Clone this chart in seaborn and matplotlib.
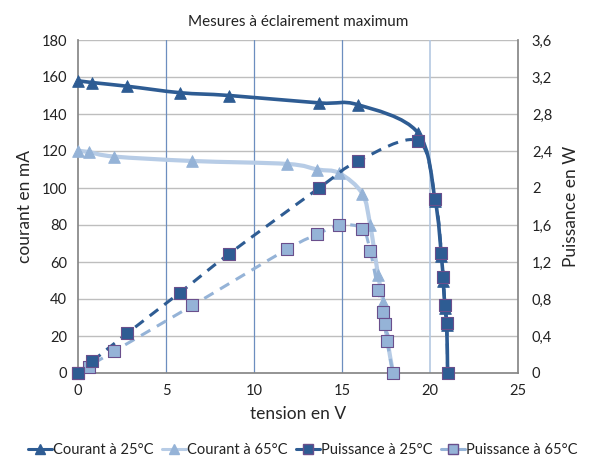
import numpy as np
import pandas as pd
import matplotlib
matplotlib.use("Agg")
import matplotlib.pyplot as plt
import seaborn as sns
from matplotlib.path import Path
from matplotlib.patches import PathPatch
from matplotlib.lines import Line2D

# data
v_25 = [0, 0.8, 2.8, 5.8, 8.6, 13.7, 15.9, 19.3, 20.3, 20.65, 20.75, 20.85, 20.95, 21.0]
i_25 = [158, 157, 155, 151.5, 150, 146, 145, 130, 93, 63, 50, 35, 26, 0]
p_25 = [0, 0.125, 0.43, 0.87, 1.29, 2.0, 2.29, 2.51, 1.88, 1.3, 1.04, 0.73, 0.54, 0]

v_65 = [0, 0.6, 2.05, 6.5, 11.9, 13.6, 14.85, 16.15, 16.6, 17.05, 17.35, 17.45, 17.55, 17.9]
i_65 = [120, 119.5, 117, 114.6, 113, 110, 108, 97, 80, 53, 38.5, 30, 19.5, 0]
p_65 = [0, 0.07, 0.235, 0.73, 1.34, 1.5, 1.6, 1.56, 1.32, 0.9, 0.66, 0.53, 0.35, 0]

x_ticks = [0, 5, 10, 15, 20, 25]
y_ticks = list(range(0, 181, 20))
y2_ticks = [0, 0.4, 0.8, 1.2, 1.6, 2, 2.4, 2.8, 3.2, 3.6]
y2_labels = ["0", "0,4", "0,8", "1,2", "1,6", "2", "2,4", "2,8", "3,2", "3,6"]

dark = "#2E5C93"
light = "#95B3D7"
light_line = "#B7CCE6"
edge = "#6A4F8C"

sns.set_theme(style="white")
plt.rcParams["font.family"] = ["Lato", "DejaVu Sans"]
plt.rcParams["text.color"] = "#222222"


def smooth_path(x, y):
    # excel-like smoothed line as cubic bezier segments
    pts = np.column_stack([x, y]).astype(float)
    n = len(pts)
    verts = [pts[0]]
    codes = [Path.MOVETO]
    for k in range(n - 1):
        p0 = pts[max(k - 1, 0)]
        p1 = pts[k]
        p2 = pts[k + 1]
        p3 = pts[min(k + 2, n - 1)]
        c1 = p1 + (p2 - p0) / 6
        c2 = p2 - (p3 - p1) / 6
        verts += [c1, c2, p2]
        codes += [Path.CURVE4] * 3
    return Path(verts, codes)


fig = plt.figure(figsize=(6.06, 4.59), dpi=100)
ax = fig.add_axes([78 / 606, 1 - 373 / 459, 440 / 606, 333 / 459])
ax2 = ax.twinx()

ax.set_xlim(0, 25)
ax.set_ylim(0, 180)
ax2.set_ylim(0, 3.6)

for y in y_ticks[1:]:
    ax.axhline(y, color="#BEBEBE", lw=1, zorder=0)
for x in [5, 10, 15]:
    ax.axvline(x, color="#6C8EBF", lw=0.9, zorder=0)
ax.axvline(20, color="#B4C8E2", lw=1.2, zorder=0)

# current curves
ax.add_patch(PathPatch(smooth_path(v_65, i_65), fill=False, ec=light_line, lw=3, zorder=2))
ax.add_patch(PathPatch(smooth_path(v_25, i_25), fill=False, ec=dark, lw=2.6, zorder=3))
sns.scatterplot(x=v_65, y=i_65, marker="^", s=70, color=light, edgecolor=light, ax=ax, zorder=4, clip_on=False)
sns.scatterplot(x=v_25, y=i_25, marker="^", s=70, color=dark, edgecolor=dark, ax=ax, zorder=5, clip_on=False)

# power curves
ax2.add_patch(PathPatch(smooth_path(v_65, p_65), fill=False, ec=light, lw=2.2,
                        linestyle=(0, (3.5, 2.5)), zorder=2))
ax2.add_patch(PathPatch(smooth_path(v_25, p_25), fill=False, ec=dark, lw=2.2,
                        linestyle=(0, (3.5, 2.5)), zorder=3))
sns.scatterplot(x=v_65, y=p_65, marker="s", s=65, color=light, edgecolor=edge, linewidth=0.8,
                ax=ax2, zorder=4, clip_on=False)
sns.scatterplot(x=v_25, y=p_25, marker="s", s=65, color=dark, edgecolor=edge, linewidth=0.8,
                ax=ax2, zorder=5, clip_on=False)

ax.set_xticks(x_ticks)
ax.set_yticks(y_ticks)
ax2.set_yticks(y2_ticks)
ax2.set_yticklabels(y2_labels)
ax.tick_params(axis="both", labelsize=10.5, length=0, pad=8, colors="#222222")
ax2.tick_params(axis="y", labelsize=10.5, length=0, pad=10, colors="#222222")

for a in (ax, ax2):
    for s in a.spines.values():
        s.set_visible(False)
ax.spines["left"].set_visible(True)
ax.spines["left"].set_color("#868686")
ax.spines["bottom"].set_visible(True)
ax.spines["bottom"].set_color("#868686")
ax2.spines["right"].set_visible(True)
ax2.spines["right"].set_color("#868686")

ax.set_xlabel("tension en V", fontsize=12.5, labelpad=6)
ax.set_ylabel("courant en mA", fontsize=12.5, labelpad=6)
ax2.set_ylabel("Puissance en W", fontsize=12.5, labelpad=8)
ax.set_title("Mesures à éclairement maximum", fontsize=11, pad=10)

handles = [
    Line2D([], [], color=dark, lw=2.2, marker="^", ms=7, mfc=dark, mec=dark),
    Line2D([], [], color=light_line, lw=2.2, marker="^", ms=7, mfc=light, mec=light),
    Line2D([], [], color=dark, lw=2.2, marker="s", ms=7, mfc=dark, mec=edge),
    Line2D([], [], color=light, lw=2.2, marker="s", ms=7, mfc=light, mec=edge),
]
labels = ["Courant à 25°C", "Courant à 65°C", "Puissance à 25°C", "Puissance à 65°C"]
fig.legend(handles, labels, loc="center", bbox_to_anchor=(0.5, 1 - 450 / 459), ncol=4,
           frameon=False, fontsize=10.5, handlelength=1.6, handletextpad=0.1, columnspacing=0.6)

fig.savefig("out.png", dpi=100)
